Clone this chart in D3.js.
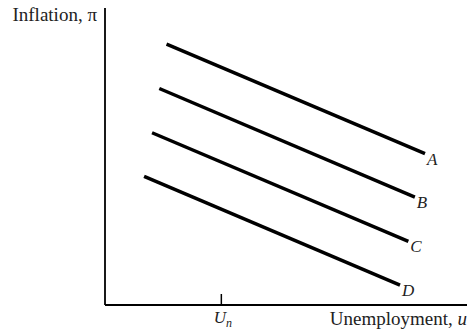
<!DOCTYPE html>
<html>
<head>
<meta charset="utf-8">
<script src="https://cdn.jsdelivr.net/npm/d3@7"></script>
<style>
  body { margin: 0; background: #fff; }
  text { font-family: "Liberation Serif", "Times New Roman", serif; fill: #222; }
</style>
</head>
<body>
<div id="wrapper"></div>
<script>
// Phillips curves, abstract units (0-100 on both axes)
const curveNames = ["A", "B", "C", "D"];
const curveStartU = [17.0, 15.0, 13.0, 10.8];
const curveStartPi = [87.8, 72.9, 58.0, 43.3];
const curveEndU = [88.4, 85.6, 83.8, 81.5];
const curveEndPi = [51.0, 36.3, 21.4, 6.7];
const naturalRate = 32.0;

function buildPlot() {
    const dimension = {
        width: 467,
        height: 332,
        margin: { top: 8, left: 105, bottom: 27, right: 0 }
    };
    dimension.boundedWidth = dimension.width - dimension.margin.left - dimension.margin.right;
    dimension.boundedHeight = dimension.height - dimension.margin.top - dimension.margin.bottom;

    const svg = d3.select("#wrapper").append("svg")
        .attr("width", dimension.width)
        .attr("height", dimension.height);

    const bounded = svg.append("g")
        .attr("transform", `translate(${dimension.margin.left}, ${dimension.margin.top})`);

    const xScaler = d3.scaleLinear().domain([0, 100]).range([0, dimension.boundedWidth]);
    const yScaler = d3.scaleLinear().domain([0, 100]).range([dimension.boundedHeight, 0]);

    const curves = curveNames.map((name, i) => ({
        name,
        points: [[curveStartU[i], curveStartPi[i]], [curveEndU[i], curveEndPi[i]]]
    }));

    const lineGenerator = d3.line()
        .x(d => xScaler(d[0]))
        .y(d => yScaler(d[1]));

    bounded.selectAll("path.curve")
        .data(curves)
        .join("path")
        .attr("class", "curve")
        .attr("d", d => lineGenerator(d.points))
        .attr("fill", "none")
        .attr("stroke", "#000")
        .attr("stroke-width", 3.5);

    bounded.selectAll("text.label")
        .data(curves)
        .join("text")
        .attr("class", "label")
        .attr("x", d => xScaler(d.points[1][0]) + 2)
        .attr("y", d => yScaler(d.points[1][1]) + 11)
        .attr("font-size", 17)
        .attr("font-style", "italic")
        .text(d => d.name);

    // axes
    const xAxis = d3.axisBottom(xScaler)
        .tickValues([naturalRate])
        .tickSize(-11)
        .tickFormat("");
    const gx = bounded.append("g")
        .attr("transform", `translate(0, ${dimension.boundedHeight})`)
        .call(xAxis);
    gx.select(".domain").attr("d", `M0,0H${dimension.boundedWidth}`).attr("stroke-width", 1.8);
    gx.selectAll(".tick line").attr("stroke-width", 1.5);

    const yAxis = d3.axisLeft(yScaler).tickValues([]).tickSize(0);
    const gy = bounded.append("g").call(yAxis);
    gy.select(".domain").attr("d", `M0,0V${dimension.boundedHeight}`).attr("stroke-width", 1.8);

    // U_n label
    const un = bounded.append("text")
        .attr("x", xScaler(naturalRate) + 2)
        .attr("y", dimension.boundedHeight + 18)
        .attr("text-anchor", "middle")
        .attr("font-size", 17)
        .attr("font-style", "italic");
    un.append("tspan").text("U");
    un.append("tspan").attr("dy", 4).attr("font-size", 12).text("n");

    const xl = svg.append("text")
        .attr("x", 467)
        .attr("y", 325)
        .attr("text-anchor", "end")
        .attr("font-size", 19);
    xl.append("tspan").text("Unemployment, ");
    xl.append("tspan").attr("font-style", "italic").text("u");

    svg.append("text")
        .attr("x", 97)
        .attr("y", 21)
        .attr("text-anchor", "end")
        .attr("font-size", 19)
        .text("Inflation, π");
}

buildPlot();
</script>
</body>
</html>
